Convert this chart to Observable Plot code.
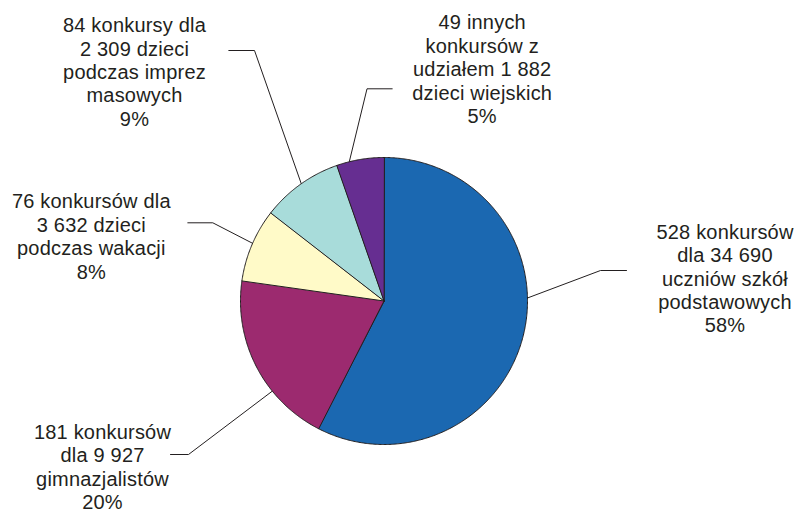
<!DOCTYPE html>
<html><head><meta charset="utf-8">
<script src="https://cdn.jsdelivr.net/npm/d3@7"></script>
<script src="https://cdn.jsdelivr.net/npm/@observablehq/plot@0.6"></script>
<style>body{margin:0;background:#fff}</style>
</head><body><div id="chart"></div>
<script>
// ---- data ----
const categories = ["szkoły podstawowe", "gimnazja", "wakacje", "imprezy masowe", "inne (wieś)"];
const contests = [528, 181, 76, 84, 49];
const participants = [34690, 9927, 3632, 2309, 1882];
const labelTexts = [
  ["528 konkursów", "dla 34 690", "uczniów szkół", "podstawowych"],
  ["181 konkursów", "dla 9 927", "gimnazjalistów"],
  ["76 konkursów dla", "3 632 dzieci", "podczas wakacji"],
  ["84 konkursy dla", "2 309 dzieci", "podczas imprez", "masowych"],
  ["49 innych", "konkursów z", "udziałem 1 882", "dzieci wiejskich"]
];
const colors = ["#1b68b1", "#9c2a6f", "#fffac8", "#a8dcda", "#662e91"];

// ---- layout ----
const W = 798, H = 509;
const cx = 383.5, cy = 300.5, R = 143.5;
const anchorAngles = [88.8, 231.1, 293.7, 324.8, 346]; // degrees, clockwise from top
const elbows = [[600, 270], [188, 454], [212.3, 222.3], [254, 50], [366.5, 88.3]];
const ends = [[626, 270], [170, 454], [187.3, 222.3], [228.3, 50], [391.7, 88.3]];
const labelPos = [[724.5, 277.5], [102, 466], [90.8, 235.5], [134, 71], [481.7, 68.2]];

const total = d3.sum(contests);
const arcs = d3.pie().sort(null).value(d => d)(contests);

const slicePts = [];
arcs.forEach((a, i) => {
  slicePts.push({k: i, x: cx, y: cy, c: colors[i]});
  const n = Math.max(2, Math.ceil((a.endAngle - a.startAngle) / (Math.PI / 360)));
  for (let j = 0; j <= n; j++) {
    const t = a.startAngle + (a.endAngle - a.startAngle) * j / n;
    slicePts.push({k: i, x: cx + R * Math.sin(t), y: cy - R * Math.cos(t), c: colors[i]});
  }
});

const leaderPts = [];
anchorAngles.forEach((deg, i) => {
  const t = deg * Math.PI / 180;
  leaderPts.push({k: i, x: cx + R * Math.sin(t), y: cy - R * Math.cos(t)});
  leaderPts.push({k: i, x: elbows[i][0], y: elbows[i][1]});
  leaderPts.push({k: i, x: ends[i][0], y: ends[i][1]});
});

const labels = contests.map((v, i) => ({
  x: labelPos[i][0], y: labelPos[i][1],
  text: labelTexts[i].join("\n") + "\n" + Math.round(v / total * 100) + "%"
}));

const chart = Plot.plot({
  width: W, height: H,
  margin: 0,
  x: {type: "linear", domain: [0, W], range: [0, W], axis: null},
  y: {type: "linear", domain: [0, H], range: [0, H], axis: null},
  style: {fontFamily: "'Liberation Sans', Arial, sans-serif", background: "#fff", letterSpacing: "0.2px"},
  marks: [
    Plot.line(leaderPts, {x: "x", y: "y", z: "k", stroke: "#231f20", strokeWidth: 1}),
    Plot.line(slicePts, {x: "x", y: "y", z: "k", fill: "c", stroke: "#231f20", strokeWidth: 1, curve: "linear-closed"}),
    Plot.text(labels, {x: "x", y: "y", text: "text", fontSize: 20, lineHeight: 1.17, fill: "#231f20", textAnchor: "middle", lineAnchor: "middle"})
  ]
});
document.getElementById("chart").appendChild(chart);
</script>
</body></html>
